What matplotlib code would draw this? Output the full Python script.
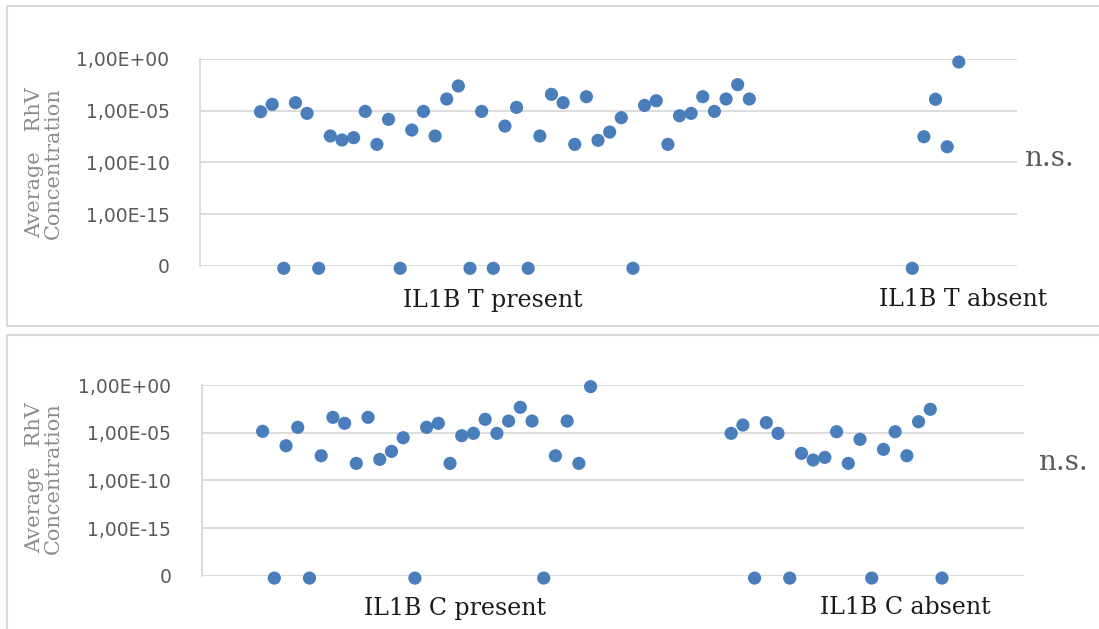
import numpy as np
import matplotlib
matplotlib.use('Agg')
import matplotlib.pyplot as plt
from matplotlib.lines import Line2D
import matplotlib.transforms as mtransforms

# log10 of average RhV concentration per sample, None = concentration 0
t_present = [-5.1, -4.39, None, -4.23, -5.26, None, -7.45, -7.84, -7.61, -5.07,
             -8.26, -5.84, None, -6.87, -5.07, -7.45, -3.87, -2.61, None, -5.07,
             None, -6.49, -4.68, None, -7.45, -3.42, -4.23, -8.26, -3.65, -7.87,
             -7.07, -5.68, None, -4.49, -4.04, -8.26, -5.49, -5.26, -3.65, -5.07,
             -3.87, -2.48, -3.87]
t_absent = [None, -7.52, -3.9, -8.49, -0.29]

c_present = [-4.86, None, -6.37, -4.44, None, -7.42, -3.39, -4.02, -8.22, -3.39,
             -7.8, -6.96, -5.53, None, -4.44, -4.02, -8.22, -5.32, -5.07, -3.6,
             -5.07, -3.78, -2.34, -3.78, None, -7.42, -3.78, -8.22, -0.17]
c_absent = [-5.07, -4.2, None, -3.95, -5.07, None, -7.17, -7.87, -7.59, -4.9,
            -8.22, -5.7, None, -6.75, -4.9, -7.42, -3.85, -2.55, None]

# x offset where each group starts (Excel scatter x index)
t_starts = [0, 56]
c_starts = [0, 40]

ytick_pos = [-20, -15, -10, -5, 0]
ytick_labels = ['0', '1,00E-15', '1,00E-10', '1,00E-05', '1,00E+00']

t_groups = ['IL1B T present', 'IL1B T absent']
c_groups = ['IL1B C present', 'IL1B C absent']

ZERO_Y = -20.25
blue = '#4a7ebb'
grid_c = '#d9d9d9'
txt_c = '#595959'


def to_y(vals):
    return np.array([ZERO_Y if v is None else v for v in vals])


fig = plt.figure(figsize=(10.99, 6.29), dpi=100)

# panel frames (right side runs off the picture)
x0 = 7/1099
for xs, ys in [([1, x0, x0, 1], [1-6/629, 1-6/629, 1-326/629, 1-326/629]),
               ([1, x0, x0], [1-335/629, 1-335/629, 0])]:
    fig.lines.append(Line2D(xs, ys, transform=fig.transFigure, color=grid_c, lw=1.5, zorder=0))


def panel(rect, series, starts, groups, label_x, label_y, ylab_y, ns_xy):
    ax = fig.add_axes(rect)
    for vals, s in zip(series, starts):
        x = s + np.arange(len(vals))
        ax.scatter(x, to_y(vals), s=90, color=blue, edgecolors='none', zorder=3, clip_on=False)
    ax.set_xlim(-5.2, 65)
    ax.set_ylim(-20, 0)
    ax.set_yticks(ytick_pos)
    ax.set_yticklabels(ytick_labels)
    ax.set_xticks([])
    ax.tick_params(axis='y', length=0, pad=22, labelsize=13.5, labelcolor=txt_c)
    ax.grid(axis='y', color=grid_c, lw=1.3, zorder=0)
    ax.set_axisbelow(True)
    for side in ['top', 'right', 'bottom']:
        ax.spines[side].set_visible(False)
    ax.spines['left'].set_color(grid_c)
    ax.spines['left'].set_linewidth(1.3)
    trans = mtransforms.blended_transform_factory(ax.transData, fig.transFigure)
    for g, gx in zip(groups, label_x):
        ax.text(gx, label_y, g, transform=trans, ha='center', va='center',
                fontsize=17, family='DejaVu Serif', color='#1a1a1a')
    fig.text(44/1099, ylab_y, 'Average   RhV\nConcentration', rotation=90, ha='center',
             va='center', fontsize=15, family='DejaVu Serif', color='#8c8c8c',
             linespacing=1.0)
    fig.text(ns_xy[0], ns_xy[1], 'n.s.', ha='left', va='center', fontsize=20,
             family='DejaVu Serif', color=txt_c)
    return ax


panel([200/1099, 1-265.7/629, 817/1099, 206.7/629], [t_present, t_absent], t_starts, t_groups,
      [20.0, 60.4], 1-300/629, 1-163/629, (1024/1099, 1-158/629))
panel([201.7/1099, 1-575.7/629, 822.3/1099, 190.7/629], [c_present, c_absent], c_starts, c_groups,
      [16.4, 54.9], 1-608/629, 1-478/629, (1038/1099, 1-462/629))

fig.savefig('out.png', dpi=100)
